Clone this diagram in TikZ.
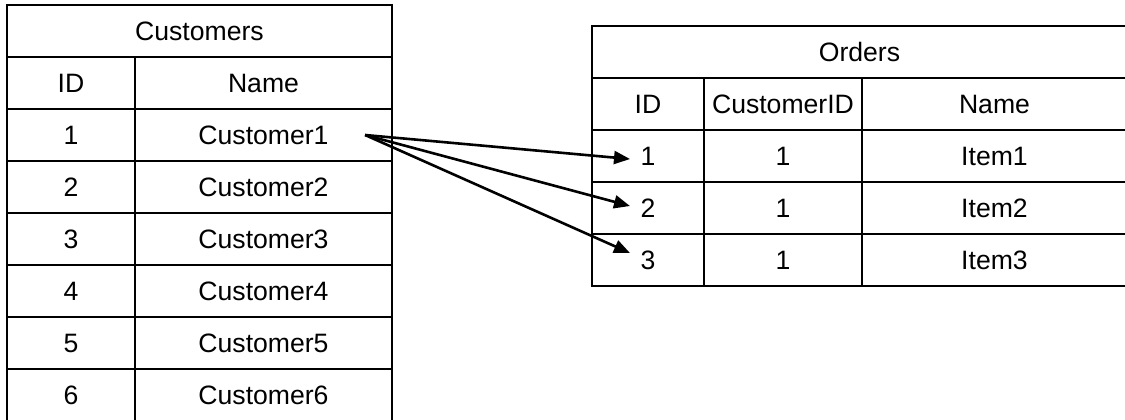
\documentclass[tikz,border=0pt]{standalone}
\usepackage{fontspec}
\setmainfont{Liberation Sans}
\usetikzlibrary{arrows.meta}
\tikzset{
  cell/.style={draw, line width=1.1pt, inner sep=0pt, minimum height=26pt,
    font=\fontsize{13.3}{15}\selectfont},
  fk/.style={line width=1.3pt, -{Triangle[length=8pt,width=6.5pt]}}
}

\begin{document}
\begin{tikzpicture}[x=0.5pt, y=-0.5pt]
      \useasboundingbox (0,0) rectangle (1125,419);

      % Table Customers
      \node[cell, minimum width=192.5pt] (chead) at (199.5,31) {Customers};
      \node[cell, minimum width=64pt] (cidh) at (71,83) {ID};
      \node[cell, minimum width=128.5pt] (cnameh) at (263.5,83) {Name};
      \foreach \i in {1,...,6} {
        \node[cell, minimum width=64pt] (cid\i) at (71,83+52*\i) {\i};
        \node[cell, minimum width=128.5pt] (cname\i) at (263.5,83+52*\i) {Customer\i};
      }

      % Table Orders
      \node[cell, minimum width=267.5pt] (ohead) at (859.5,52) {Orders};
      \node[cell, minimum width=56pt] (oidh) at (648,104) {ID};
      \node[cell, minimum width=79pt] (ocusth) at (783,104) {CustomerID};
      \node[cell, minimum width=132.5pt] (onameh) at (994.5,104) {Name};
      \foreach \i in {1,2,3} {
        \node[cell, minimum width=56pt] (oid\i) at (648,104+52*\i) {\i};
        \node[cell, minimum width=79pt] (ocust\i) at (783,104+52*\i) {1};
        \node[cell, minimum width=132.5pt] (oname\i) at (994.5,104+52*\i) {Item\i};
      }

      % Customer1 -> its orders
      \coordinate (src) at ([xshift=-14pt]cname1.east);
      \foreach \i/\dy in {1/-1.5,2/1,3/3.5}
        \draw[fk] (src) -- ([xshift=-9pt,yshift=\dy pt]oid\i.center);
\end{tikzpicture}
\end{document}
